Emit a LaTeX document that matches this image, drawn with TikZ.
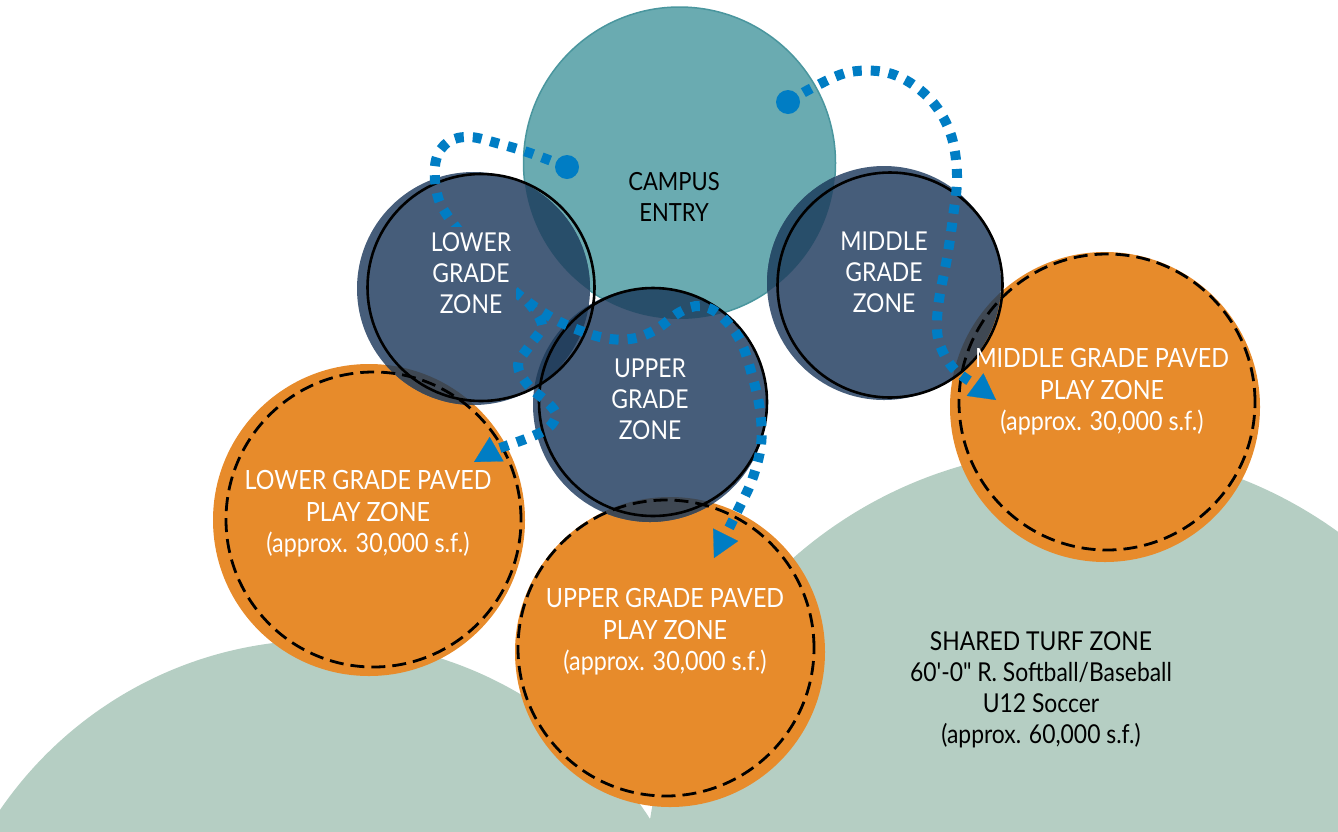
\documentclass[tikz,border=0pt]{standalone}
\usepackage{fontspec}
\setmainfont{Lato}[FakeStretch=0.88]
\newfontfamily\turffont{Lato}[FakeStretch=0.88,Ligatures=TeXOff]
\usetikzlibrary{arrows.meta}
\definecolor{turf}{HTML}{B5CEC3}
\definecolor{paved}{HTML}{E78B2B}
\definecolor{zone}{HTML}{465D7A}
\definecolor{entry}{HTML}{6AABB1}
\definecolor{entryline}{HTML}{4A969E}
\definecolor{zoneentry}{HTML}{284E6A}
\definecolor{zonepaved}{HTML}{3F4853}
\definecolor{zonezone}{HTML}{24405E}
\definecolor{flowblue}{HTML}{007DC4}
% circle geometry (x right, y down, in px)
\newcommand\cTurfL{(322,1030) circle[radius=390pt]}
\newcommand\cTurfR{(1082,886) circle[radius=437pt]}
\newcommand\cEntry{(679.5,163) circle[radius=156pt]}
\newcommand\cLowF{(473.5,288.5) circle[radius=116.5pt]}
\newcommand\cLowL{(481,287.5) circle[radius=113.5pt]}
\newcommand\cUppF{(650,405) circle[radius=117pt]}
\newcommand\cUppL{(653,402) circle[radius=114pt]}
\newcommand\cMidF{(884,283) circle[radius=117pt]}
\newcommand\cMidL{(890,285) circle[radius=112.5pt]}
\newcommand\cPavL{(369,520) circle[radius=156pt]}
\newcommand\cPavLd{(373.5,519.5) circle[radius=147.5pt]}
\newcommand\cPavU{(670,652) circle[radius=155pt]}
\newcommand\cPavUd{(666,648) circle[radius=148pt]}
\newcommand\cPavM{(1105,407) circle[radius=155pt]}
\newcommand\cPavMd{(1107,402) circle[radius=148pt]}
\begin{document}
\begin{tikzpicture}[x=1pt,y=-1pt,
  flow/.style={draw=flowblue, line width=10pt, dash pattern=on 9pt off 9pt, line cap=butt},
  flowtip/.style={draw=flowblue, line width=0.2pt, -{Triangle[length=26pt,width=28pt]}},
  flowdot/.style={fill=flowblue, circle, inner sep=0pt, minimum size=24pt},
  ring/.style={draw=black, line width=2.6pt},
  rim/.style={draw=black, line width=2.8pt, dash pattern=on 14pt off 7pt},
  zonelbl/.style={text=white, align=center, font=\fontsize{26}{31}\selectfont, inner sep=0pt},
  pavedlbl/.style={text=white, align=center, font=\fontsize{26.5}{31.5}\selectfont, inner sep=0pt},
  darklbl/.style={text=black, align=center, font=\fontsize{25}{31}\selectfont, inner sep=0pt}]
\useasboundingbox (0,0) rectangle (1338,831);
\clip (0,0) rectangle (1338,831);
% turf
\fill[turf] \cTurfL;
\fill[turf] \cTurfR;
% paved zones
\fill[paved] \cPavL;
\fill[paved] \cPavU;
\fill[paved] \cPavM;
% campus entry
\filldraw[fill=entry, draw=entryline, line width=1.5pt] \cEntry;
% grade zones
\fill[zone] \cLowF;
\fill[zone] \cUppF;
\fill[zone] \cMidF;
% overlaps
\begin{scope}\clip \cEntry; \fill[zoneentry] \cLowF; \fill[zoneentry] \cUppF; \fill[zoneentry] \cMidF; \end{scope}
\begin{scope}\clip \cLowF; \fill[zonezone] \cUppF; \end{scope}
\begin{scope}\clip \cPavL; \fill[zonepaved] \cLowF; \end{scope}
\begin{scope}\clip \cPavU; \fill[zonepaved] \cUppF; \end{scope}
\begin{scope}\clip \cPavM; \fill[zonepaved] \cMidF; \end{scope}
% dashed rims
\draw[rim] \cPavLd;
\draw[rim] \cPavUd;
\draw[rim] \cPavMd;
% outlines
\draw[ring] \cLowL;
\draw[ring] \cUppL;
\draw[ring] \cMidL;
% flows
\node[flowdot] (dotA) at (567,167) {};
\node[flowdot] (dotM) at (788,102) {};
\coordinate (split) at (528,302);
\coordinate (preU) at (725.6,534.8);
\coordinate (tipU) at (714,558);
\coordinate (preL) at (496.6,449.1);
\coordinate (tipL) at (474,462);
\coordinate (preM) at (975.1,384.6);
\coordinate (tipM) at (996,400);
\draw[flow] plot[smooth, tension=0.6] coordinates {(dotA.center) (530,153) (500,144) (470,137) (448,142) (436,160) (436,188) (445,212) (475,250) (505,282) (split) (560,322) (600,337) (630,339) (655,330) (680,312) (700,306) (720,315) (740,340) (752,375) (760,410) (761,445) (752,480) (738,510) (preU)};
\draw[flow] plot[smooth, tension=0.6] coordinates {(split) (542,325) (530,345) (518,365) (528,385) (548,403) (556,415) (548,428) (528,438) (preL)};
\draw[flow] plot[smooth, tension=0.6] coordinates {(dotM.center) (812,88) (850,72) (892,74) (928,97) (950,132) (957,175) (953,217) (947,258) (939,300) (937,330) (942,350) (955,370) (preM)};
\draw[flowtip] (preU) -- (tipU);
\draw[flowtip] (preL) -- (tipL);
\draw[flowtip] (preM) -- (tipM);
% labels
\node[darklbl] (entrylbl) at (674,197) {CAMPUS\\ENTRY};
\node[zonelbl, fill=zone, inner sep=5pt] (lowlbl) at (471,273) {LOWER\\GRADE\\ZONE};
\node[zonelbl] (upplbl) at (650,399) {UPPER\\GRADE\\ZONE};
\node[zonelbl] (midlbl) at (884,272) {MIDDLE\\GRADE\\ZONE};
\node[pavedlbl] (pavLlbl) at (368,514) {LOWER GRADE PAVED\\PLAY ZONE\\(approx. 30,000 s.f.)};
\node[pavedlbl] (pavUlbl) at (665,632) {UPPER GRADE PAVED\\PLAY ZONE\\(approx. 30,000 s.f.)};
\node[pavedlbl] (pavMlbl) at (1102,392) {MIDDLE GRADE PAVED\\PLAY ZONE\\(approx. 30,000 s.f.)};
\node[darklbl, font=\turffont\fontsize{26}{31}\selectfont] (turflbl) at (1041,690) {SHARED TURF ZONE\\60'-0" R. Softball/Baseball\\U12 Soccer\\(approx. 60,000 s.f.)};
\end{tikzpicture}
\end{document}
